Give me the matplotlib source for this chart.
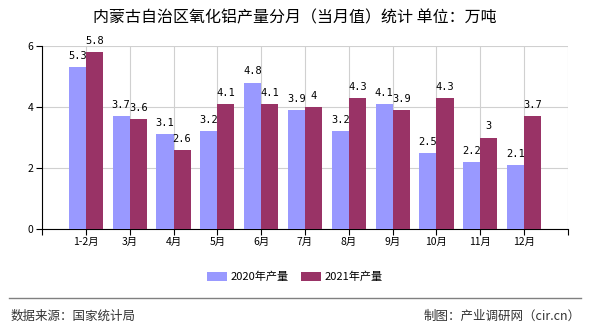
import matplotlib
matplotlib.use("Agg")
import matplotlib.pyplot as plt
import numpy as np

plt.rcParams['font.family'] = ['Noto Sans CJK SC', 'DejaVu Sans']

categories = ['1-2月', '3月', '4月', '5月', '6月', '7月', '8月', '9月', '10月', '11月', '12月']
v2020 = [5.3, 3.7, 3.1, 3.2, 4.8, 3.9, 3.2, 4.1, 2.5, 2.2, 2.1]
v2021 = [5.8, 3.6, 2.6, 4.1, 4.1, 4.0, 4.3, 3.9, 4.3, 3.0, 3.7]
yticks = [0, 2, 4, 6]

c2020 = '#9999FF'
c2021 = '#993366'

fig = plt.figure(figsize=(5.9, 3.3), dpi=100)
ax = fig.add_axes([42/590, 1-229/330, 526/590, 183/330])

x = np.arange(1, len(categories) + 1)
w = 0.39
ax.bar(x - w/2, v2020, width=w, color=c2020, label='2020年产量', zorder=3)
ax.bar(x + w/2, v2021, width=w, color=c2021, label='2021年产量', zorder=3)

def fmt(v):
    return ('%g' % v)

for xi, v in zip(x - w/2, v2020):
    ax.text(xi, v + 0.2, fmt(v), ha='center', va='bottom', fontsize=7.5,
            family=['DejaVu Sans Mono'], zorder=4)
for xi, v in zip(x + w/2, v2021):
    ax.text(xi, v + 0.2, fmt(v), ha='center', va='bottom', fontsize=7.5,
            family=['DejaVu Sans Mono'], zorder=4)

ax.set_xlim(0, len(categories) + 1)
ax.set_ylim(0, 6)
ax.set_yticks(yticks)
ax.set_yticklabels([str(t) for t in yticks], fontsize=7.5)
ax.set_xticks(np.arange(0, len(categories) + 2))
ax.set_xticklabels([''] + categories + [''], fontsize=7.5)
ax.tick_params(axis='both', length=4, width=0.8, color='black', pad=2)

ax.grid(True, color='#d0d0d0', linewidth=0.8, zorder=0)
ax.spines['top'].set_visible(False)
ax.spines['right'].set_visible(False)
ax.spines['left'].set_color('black')
ax.spines['bottom'].set_color('black')

fig.text(0.5, 1-18/330, '内蒙古自治区氧化铝产量分月（当月值）统计 单位：万吨',
         ha='center', va='center', fontsize=11.5)

fig.legend(loc='center', bbox_to_anchor=(0.5, 1-277/330), ncol=2, frameon=False,
           fontsize=8, handlelength=1.8, handleheight=0.9, handletextpad=0.3,
           columnspacing=1.1)

fig.add_artist(plt.Line2D([9/590, 581/590], [1-298/330, 1-298/330], color='#808080', linewidth=1))
fig.text(11/590, 1-316/330, '数据来源：国家统计局', ha='left', va='center', fontsize=9, color='#333333')
fig.text(581/590, 1-316/330, '制图：产业调研网（cir.cn）', ha='right', va='center', fontsize=9, color='#333333')

fig.savefig('out.png', dpi=100)
